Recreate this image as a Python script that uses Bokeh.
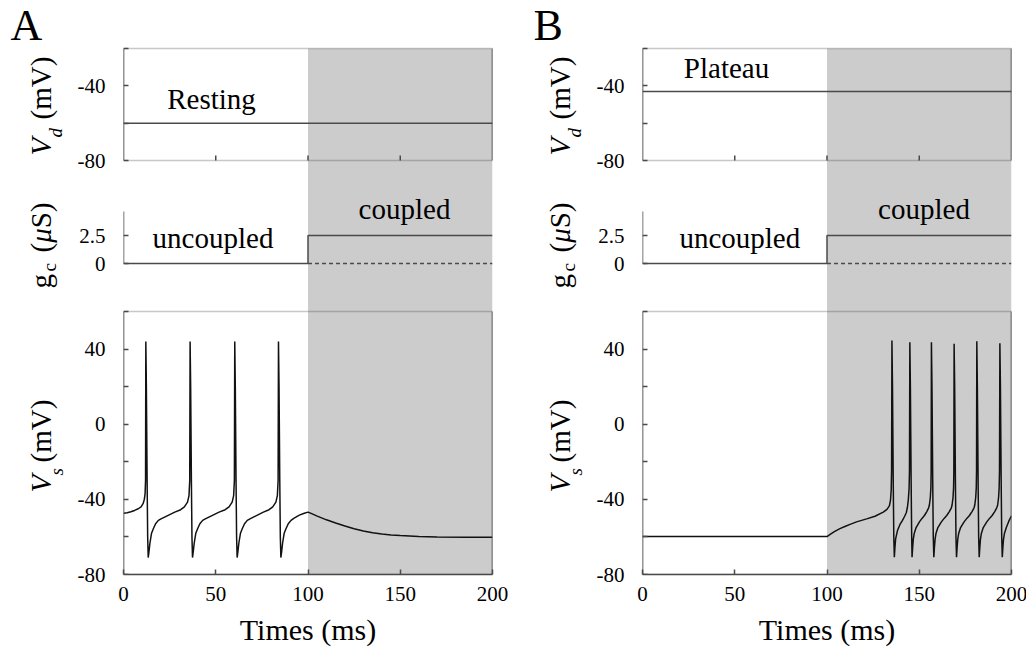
import math
from bokeh.plotting import figure
from bokeh.models import Range1d, FixedTicker, BoxAnnotation, Label, LinearAxis
from bokeh.layouts import row, column
from bokeh.embed import file_html
from bokeh.resources import INLINE

# ---------------- data ----------------
time_ticks = [0, 50, 100, 150, 200]
vd_ticks = [-80, -60, -40, -20]
vd_tick_labels = {-80: "-80", -40: "-40"}
gc_ticks = [0, 2.5]
gc_tick_labels = {0: "0", 2.5: "2.5"}
vs_ticks = [-80, -60, -40, -20, 0, 20, 40, 60]
vs_tick_labels = {-80: "-80", -40: "-40", 0: "0", 40: "40"}

coupling_start = 100
coupling_end = 200
vd_limits = (-80, -20)
vs_limits = (-80, 60)
gc_axis_top = 4.64

vd_time = [0, 200]
vd_A = [-60, -60]      # Resting
vd_B = [-43, -43]      # Plateau

gc_time = [0, 100, 100, 200]
gc_value = [0, 0, 2.5, 2.5]
gc_off_time = [100, 200]
gc_off_value = [0, 0]

vs_A_t = [0, 2, 4, 6, 8, 9.5, 10.6, 11.3, 11.7, 11.95, 12.1, 12.4, 12.8, 13.1, 13.4,
          13.8, 14.3, 15.2, 16.1, 17.4, 18.9, 20.6, 23.4, 27.8, 31.0, 33.0, 34.7, 35.5, 35.9,
          36.1, 36.4, 36.8, 37.1, 37.4,
          37.8, 38.3, 39.2, 40.1, 41.4, 42.9, 44.6, 47.4, 51.8, 55.1, 57.2, 58.9, 59.7, 60.1,
          60.3, 60.6, 61.0, 61.3, 61.6,
          62.0, 62.5, 63.4, 64.3, 65.6, 67.1, 68.8, 71.5, 75.8, 78.9, 80.9, 82.6, 83.4, 83.8,
          84.0, 84.3, 84.7, 85.0, 85.3,
          85.7, 86.2, 87.1, 88.0, 89.3, 90.8, 92.5, 95.3, 98.0, 100.0,
          102, 105, 110, 115, 120, 125, 130, 135, 140, 145, 150, 160, 170, 185, 200]
vs_A_v = [-47.4, -47.1, -46.6, -45.9, -45.0, -44.0, -42.3, -40.0, -37.0, -30.0, 44.0, 20.0, -30.0, -60.0, -71.0,
          -68.0, -63.5, -58.0, -55.8, -53.0, -51.2, -50.3, -48.9, -46.8, -45.5, -44.0, -41.5, -38.0, -30.0,
          44.0, 20.0, -30.0, -60.0, -71.0,
          -68.0, -63.5, -58.0, -55.8, -53.0, -51.2, -50.3, -48.9, -46.8, -45.5, -44.0, -41.5, -38.0, -30.0,
          44.0, 20.0, -30.0, -60.0, -71.0,
          -68.0, -63.5, -58.0, -55.8, -53.0, -51.2, -50.3, -48.9, -46.8, -45.5, -44.0, -41.5, -38.0, -30.0,
          44.0, 20.0, -30.0, -60.0, -71.0,
          -68.0, -63.5, -58.0, -55.8, -53.0, -51.2, -50.0, -48.4, -47.4, -46.8,
          -47.6, -48.9, -50.9, -52.6, -54.2, -55.6, -56.8, -57.8, -58.5, -59.0, -59.3, -59.8, -60.0, -60.2, -60.2]

vs_B_t = [0, 100, 101.5, 104, 107, 110, 112.5, 116, 121.5, 126, 130.5, 132.5, 133.8, 134.4, 134.8, 135.0,
          135.2, 135.5, 135.9, 136.2, 136.5,
          136.8, 137.2, 138.2, 139.5, 140.9, 142.1, 143.0, 143.6, 144.1, 144.5, 144.7,
          144.9, 145.2, 145.6, 145.9, 146.1,
          146.4, 146.8, 147.3, 148.3, 150.1, 151.6, 152.8, 154.1, 155.1, 155.5, 156.0, 156.3, 156.45,
          156.6, 156.9, 157.3, 157.6, 157.9,
          158.2, 158.6, 159.1, 160.1, 162.0, 163.6, 164.9, 166.3, 167.4, 167.8, 168.3, 168.6, 168.75,
          168.9, 169.2, 169.6, 169.9, 170.2,
          170.5, 170.9, 171.4, 172.4, 174.3, 175.9, 177.2, 178.6, 179.7, 180.1, 180.6, 180.9, 181.05,
          181.2, 181.5, 181.9, 182.2, 182.5,
          182.8, 183.2, 183.7, 184.7, 186.6, 188.2, 189.5, 190.9, 192.0, 192.5, 193.0, 193.3, 193.5,
          193.7, 194.0, 194.4, 194.7, 195.0,
          195.3, 195.7, 196.2, 197.2, 198.6, 200.0]
vs_B_v = [-59.8, -59.8, -58.8, -57.2, -55.6, -54.3, -53.3, -52.0, -50.4, -49.0, -46.8, -45.3, -43.5, -40.6, -35.0, -25.0,
          44.5, 20.0, -30.0, -60.0, -70.8,
          -66.0, -61.0, -56.6, -53.5, -51.2, -49.0, -47.0, -44.2, -40.0, -34.0, -25.0,
          43.6, 20.0, -30.0, -60.0, -70.8,
          -66.0, -61.0, -58.0, -55.0, -52.0, -50.0, -48.6, -46.5, -44.5, -43.0, -39.0, -34.0, -25.0,
          43.6, 20.0, -30.0, -60.0, -70.8,
          -66.0, -61.0, -58.0, -55.0, -52.0, -50.0, -48.6, -46.5, -44.5, -43.0, -39.0, -34.0, -25.0,
          42.8, 20.0, -30.0, -60.0, -70.8,
          -66.0, -61.0, -58.0, -55.0, -52.0, -50.0, -48.6, -46.5, -44.5, -43.0, -39.0, -34.0, -25.0,
          44.2, 20.0, -30.0, -60.0, -70.8,
          -66.0, -61.0, -58.0, -55.0, -52.0, -50.0, -48.6, -46.5, -44.5, -43.0, -39.0, -34.0, -25.0,
          43.1, 20.0, -30.0, -60.0, -70.8,
          -66.0, -61.0, -58.0, -55.0, -51.5, -48.8]

# ---------------- style / layout (pixels) ----------------
FONT = "Liberation Serif"
AXIS_COLOR = "#4a4a4a"
TRACE_COLOR = "#111111"
BAND_COLOR = "#cccccc"
TICK_FONT = "21px"
LABEL_PX = 29
SUB_PX = 19
LETTER_PX = 44
MID = 0.34            # text middle sits this many em above the baseline

TOTAL_H = 651
FRAME_W = 369
FIG_LEFT = 48
FIG_RIGHT = 17
FRAME_TOP, FRAME_BOT = 46, 574           # one frame per panel (page y)
Y_VD_TOP, Y_VD_BOT = 48, 160             # Vd box
Y_GC_ZERO, GC_PX = 263, 11.2             # gc zero line, px per uS
Y_VS_TOP = 311                           # Vs box top (bottom = frame bottom)

K_VD = (Y_VD_BOT - Y_VD_TOP) / (vd_limits[1] - vd_limits[0])
K_VS = (FRAME_BOT - Y_VS_TOP) / (vs_limits[1] - vs_limits[0])
VD_RANGE = (vd_limits[1] - (FRAME_BOT - Y_VD_TOP) / K_VD, vd_limits[1] + (Y_VD_TOP - FRAME_TOP) / K_VD)
GC_RANGE = (-(FRAME_BOT - Y_GC_ZERO) / GC_PX, (Y_GC_ZERO - FRAME_TOP) / GC_PX)
VS_RANGE = (vs_limits[0], vs_limits[1] + (Y_VS_TOP - FRAME_TOP) / K_VS)


def tx(xpage, left):
    return (xpage - left) * 200.0 / FRAME_W


def vd_y(ypage):
    return vd_limits[1] - (ypage - Y_VD_TOP) / K_VD


def gc_y(ypage):
    return (Y_GC_ZERO - ypage) / GC_PX


def gc_to_vd(g):
    return round(vd_y(Y_GC_ZERO - g * GC_PX), 6)


def vs_to_vd(v):
    return round(vd_y(Y_VS_TOP + (vs_limits[1] - v) * K_VS), 6)


def style_axis(ax):
    ax.axis_line_color = AXIS_COLOR
    ax.axis_line_width = 1.5
    ax.major_tick_line_color = AXIS_COLOR
    ax.major_tick_line_width = 1.5
    ax.major_tick_in = 5
    ax.major_tick_out = 0
    ax.minor_tick_line_color = None
    ax.major_label_text_font = FONT
    ax.major_label_text_font_size = TICK_FONT
    ax.major_label_text_color = "black"
    ax.major_label_standoff = 18


def lab(p, x, y, text, px=LABEL_PX, style="normal", angle=0.0, align="left", rng="default"):
    p.add_layout(Label(x=x, y=y, text=text, text_font=FONT, text_font_size=f"{px}px",
                       text_font_style=style, angle=angle, text_align=align,
                       text_baseline="middle", text_color="black", y_range_name=rng))


def strip(width, origin, letter, letter_x, title_x):
    """Narrow text-only figure holding the panel letter and rotated y-axis titles."""
    s = figure(x_range=Range1d(0, width), y_range=Range1d(0, TOTAL_H),
               frame_width=width, frame_height=TOTAL_H,
               min_border_left=0, min_border_right=0, min_border_top=0, min_border_bottom=0,
               x_axis_location=None, y_axis_location=None,
               toolbar_location=None, output_backend="svg")
    s.grid.visible = False
    s.outline_line_color = None
    s.background_fill_color = "white"
    s.border_fill_color = "white"
    up = math.pi / 2

    def H(xpage, base_y, text, px, **kw):          # horizontal text, baseline at base_y
        lab(s, xpage - origin, TOTAL_H - (base_y - MID * px), text, px=px, **kw)

    def V(base_x, start_y, text, px=LABEL_PX, **kw):  # rotated text, baseline at base_x
        lab(s, base_x - MID * px - origin, TOTAL_H - start_y, text, px=px, angle=up, **kw)

    H(letter_x, 40, letter, LETTER_PX)
    b = title_x
    V(b, 155, "V", style="italic")
    V(b + 11, 137, "d", px=SUB_PX, style="italic")
    V(b, 119, "(mV)")
    V(b, 288, "g")
    V(b + 5, 271, "c", px=SUB_PX)
    V(b, 252, "(")
    V(b, 242.3, "\u03bc", style="italic")
    V(b, 227.8, "S)")
    V(b, 492, "V", style="italic")
    V(b + 12, 475, "s", px=SUB_PX, style="italic")
    V(b, 462, "(mV)")
    return s


def edge_axis(p, side, rng, ticks, bounds, loc):
    """Axis line + inward ticks drawn at a fixed x (box edge); labels come from the label axis."""
    ax = LinearAxis(y_range_name=rng, fixed_location=loc, bounds=bounds,
                    ticker=FixedTicker(ticks=ticks),
                    major_label_overrides={t: "" for t in ticks})
    style_axis(ax)
    p.add_layout(ax, side)


def panel(frame_left, vd, vd_text, vd_text_x, vd_text_y, vs_t, vs_v, unc_x, cou_x):
    p = figure(x_range=Range1d(0, 200), y_range=Range1d(*VD_RANGE),
               frame_width=FRAME_W, frame_height=FRAME_BOT - FRAME_TOP,
               min_border_left=FIG_LEFT, min_border_right=FIG_RIGHT,
               min_border_top=FRAME_TOP, min_border_bottom=TOTAL_H - FRAME_BOT,
               toolbar_location=None, output_backend="svg",
               x_axis_location="below", y_axis_location=None)
    p.extra_y_ranges = {"gc": Range1d(*GC_RANGE), "vs": Range1d(*VS_RANGE)}
    p.grid.visible = False
    p.outline_line_color = None
    p.background_fill_color = "white"
    p.border_fill_color = "white"

    # coupling band (from Vd box top down to the time axis)
    p.add_layout(BoxAnnotation(left=coupling_start, right=coupling_end, top=vd_limits[1],
                               fill_color=BAND_COLOR, fill_alpha=1.0, line_color=None,
                               level="underlay"))

    # main time axis
    xa = p.xaxis[0]
    style_axis(xa)
    xa.ticker = FixedTicker(ticks=time_ticks)
    xa.major_label_standoff = 12
    xa.axis_label = "Times (ms)"
    xa.axis_label_text_font = FONT
    xa.axis_label_text_font_size = "30px"
    xa.axis_label_text_font_style = "normal"
    xa.axis_label_text_color = "black"
    xa.axis_label_standoff = 9

    # tick labels of all three sub-plots on one label-only left axis
    label_map = {}
    for v, t in vd_tick_labels.items():
        label_map[float(v)] = t
    for g, t in gc_tick_labels.items():
        label_map[gc_to_vd(g)] = t
    for v, t in vs_tick_labels.items():
        label_map[vs_to_vd(v)] = t
    la = LinearAxis(ticker=FixedTicker(ticks=list(label_map.keys())),
                    major_label_overrides=label_map)
    style_axis(la)
    la.axis_line_color = None
    la.major_tick_line_color = None
    p.add_layout(la, "left")

    def H(xpage, base_y, text, yconv, rng):
        lab(p, tx(xpage, frame_left), yconv(base_y - MID * LABEL_PX), text, align="center", rng=rng)

    # --- Vd box ---
    edge_axis(p, "left", "default", vd_ticks, vd_limits, 0)
    edge_axis(p, "right", "default", [], vd_limits, 200)
    p.add_layout(BoxAnnotation(left=0, right=200, bottom=vd_limits[0], top=vd_limits[1],
                               fill_alpha=0, line_color=AXIS_COLOR, line_width=1.5))
    tick_len = 5 / K_VD
    inner_ticks = time_ticks[1:-1]
    p.segment(x0=inner_ticks, y0=[vd_limits[0]] * len(inner_ticks),
              x1=inner_ticks, y1=[vd_limits[0] + tick_len] * len(inner_ticks),
              line_color=AXIS_COLOR, line_width=1.5)
    p.line(vd_time, vd, line_color=AXIS_COLOR, line_width=1.5)
    H(vd_text_x, vd_text_y, vd_text, vd_y, "default")

    # --- gc ---
    edge_axis(p, "left", "gc", gc_ticks, (0, gc_axis_top), 0)
    p.line(gc_time, gc_value, line_color=AXIS_COLOR, line_width=1.5, y_range_name="gc")
    p.line(gc_off_time, gc_off_value, line_color=AXIS_COLOR, line_width=1.5,
           line_dash="4 3", y_range_name="gc")
    H(unc_x, 247, "uncoupled", gc_y, "gc")
    H(cou_x, 218, "coupled", gc_y, "gc")

    # --- Vs box ---
    edge_axis(p, "left", "vs", vs_ticks, vs_limits, 0)
    edge_axis(p, "right", "vs", [], vs_limits, 200)
    p.add_layout(BoxAnnotation(left=0, right=200, bottom=vs_limits[0], top=vs_limits[1],
                               fill_alpha=0, line_color=AXIS_COLOR, line_width=1.5,
                               y_range_name="vs"))
    p.line(vs_t, vs_v, line_color=TRACE_COLOR, line_width=1.5, y_range_name="vs")
    return column(p)


A_LEFT, B_LEFT = 122, 640
A_COL_RIGHT = A_LEFT + FRAME_W + FIG_RIGHT          # 508
STRIP_A_W = A_LEFT - FIG_LEFT                       # page x 0 .. 74
STRIP_B_W = B_LEFT - FIG_LEFT - A_COL_RIGHT         # page x 508 .. 592

stripA = strip(STRIP_A_W, 0, "A", 10, 50)
colA = panel(A_LEFT, vd_A, "Resting", 210, 108, vs_A_t, vs_A_v, 211.5, 403)
stripB = strip(STRIP_B_W, A_COL_RIGHT, "B", 532, 568)
colB = panel(B_LEFT, vd_B, "Plateau", 724, 77, vs_B_t, vs_B_v, 737.3, 921.5)

layout = row(stripA, colA, stripB, colB)
open("out.html", "w").write(file_html(layout, INLINE))
